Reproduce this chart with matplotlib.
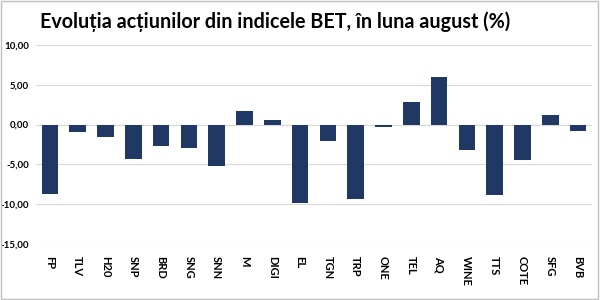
import matplotlib
matplotlib.use("Agg")
import matplotlib.pyplot as plt
from matplotlib.patches import Rectangle

categories = ["FP", "TLV", "H20", "SNP", "BRD", "SNG", "SNN", "M", "DIGI", "EL",
              "TGN", "TRP", "ONE", "TEL", "AQ", "WINE", "TTS", "COTE", "SFG", "BVB"]
values = [-8.75, -0.88, -1.54, -4.38, -2.70, -2.88, -5.25, 1.67, 0.58, -9.88,
          -2.04, -9.29, -0.29, 2.83, 6.04, -3.20, -8.88, -4.42, 1.17, -0.79]
yticks = [10, 5, 0, -5, -10, -15]
title = "Evoluția acțiunilor din indicele BET, în luna august (%)"

plt.rcParams['font.family'] = ['Lato', 'DejaVu Sans']

fig = plt.figure(figsize=(6, 3), dpi=100)
ax = fig.add_axes([36/600, 1-244/300, 556/600, 199/300])

x = range(len(categories))
ax.bar(x, values, width=0.6, color="#1F3864", zorder=3)

ax.set_ylim(-15, 10)
ax.set_xlim(-0.5, len(categories)-0.5)
ax.set_yticks(yticks)
ax.set_yticklabels([f"{v:.2f}".replace(".", ",") for v in yticks], fontsize=7, fontweight='bold')
ax.set_xticks(list(x))
ax.set_xticklabels(categories, rotation=270, fontsize=8, fontweight='bold', va='top', ha='center')
ax.tick_params(axis='both', length=0)
ax.tick_params(axis='x', pad=9)
ax.tick_params(axis='y', pad=5)
ax.grid(axis='y', color='#D9D9D9', linewidth=0.8, zorder=0)
for s in ax.spines.values():
    s.set_visible(False)
ax.axhline(0, color='#D9D9D9', linewidth=0.8, zorder=1)

fig.text(40/600, 1-22/300, title, fontsize=14.2, fontweight='bold', va='center', ha='left')
fig.patches.append(Rectangle((0.002, 0.004), 0.995, 0.992, transform=fig.transFigure,
                             fill=False, edgecolor='#BFBFBF', linewidth=1))

fig.savefig("out.png", dpi=100)
